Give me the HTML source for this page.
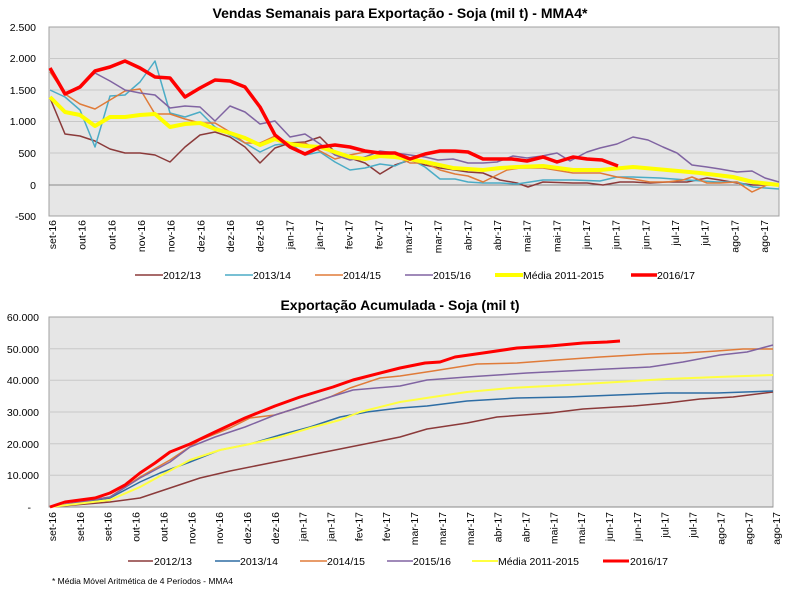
<!DOCTYPE html>
<html><head><meta charset="utf-8"><style>
body{margin:0;background:#fff;}
svg{display:block;font-family:"Liberation Sans",sans-serif;}
.t{font-size:10.5px;fill:#000;}
.ttl{font-size:14px;font-weight:bold;}
</style></head><body>
<svg width="797" height="591" viewBox="0 0 797 591" xmlns="http://www.w3.org/2000/svg">
<rect width="797" height="591" fill="#fff"/>
<!-- TOP CHART -->
<text x="400" y="18" text-anchor="middle" class="ttl">Vendas Semanais para Exportação - Soja (mil t) - MMA4*</text>
<rect x="49" y="27" width="730" height="189" fill="#e6e6e6" stroke="#a0a0a0" stroke-width="1"/>
<g stroke="#c8c8c8" stroke-width="1">
<line x1="49" y1="58.5" x2="779" y2="58.5"/><line x1="49" y1="90" x2="779" y2="90"/><line x1="49" y1="121.5" x2="779" y2="121.5"/><line x1="49" y1="153" x2="779" y2="153"/>
</g>
<line x1="49" y1="185" x2="779" y2="185" stroke="#8a8a8a" stroke-width="1"/>
<g class="t" text-anchor="end">
<text x="36" y="31">2.500</text><text x="36" y="62">2.000</text><text x="36" y="94">1.500</text><text x="36" y="125">1.000</text><text x="36" y="157">500</text><text x="36" y="189">0</text><text x="36" y="220">-500</text>
</g>
<g fill="none" stroke-linejoin="round">
<polyline stroke="#8b3a3a" stroke-width="1.5" points="50,98 65,134 80,136 95,141 110,149 125,153 140,153 155,155 170,162 185,147 200,135 215,132 230,137 245,147 260,163 275,148 290,143 305,142 320,137 335,152 350,158 365,163 380,174 395,165 410,160 425,165 440,168 455,170 468,172 483,173 500,180 517,183 528,187 543,182 573,183 587,183 603,185 620,182 633,182 650,183 667,182 687,182 707,178 720,180 737,183 753,185 779,185"/>
<polyline stroke="#4bacc6" stroke-width="1.5" points="50,90 65,97 80,110 95,147 110,96 125,95 140,82 155,61 170,113 185,117 200,112 215,127 230,135 245,143 260,152 275,145 290,143 305,155 320,152 335,162 350,170 365,168 380,164 395,166 410,159 425,167 440,179 455,179 468,182 483,183 500,183 517,184 543,180 573,180 600,181 617,177 633,177 660,178 687,180 717,182 737,182 753,187 779,189"/>
<polyline stroke="#e07b39" stroke-width="1.5" points="50,72 65,94 80,104 95,109 110,100 125,91 140,89 155,114 170,114 185,119 200,123 215,123 230,132 245,143 260,143 275,136 290,144 305,143 320,151 335,159 350,155 365,152 380,154 395,156 410,163 425,163 440,170 455,174 468,176 483,182 497,175 507,170 520,168 543,168 573,173 600,173 617,177 633,179 650,182 667,182 683,180 692,177 707,183 720,183 737,182 752,192 767,185 779,185"/>
<polyline stroke="#8064a2" stroke-width="1.5" points="50,70 65,94 80,86 95,73 110,81 125,90 140,93 155,95 170,108 185,106 200,107 215,121 230,106 245,112 260,124 275,121 290,137 305,134 320,144 335,155 350,160 365,157 380,151 395,153 410,155 425,157 438,160 453,159 468,163 483,163 497,162 513,156 527,158 542,156 557,153 570,161 587,152 600,148 617,144 633,137 648,140 663,147 677,153 692,165 707,167 720,169 737,172 752,171 765,178 779,182"/>
<polyline stroke="#ffff00" stroke-width="4" points="50,97 65,112 80,115 95,126 110,117 125,117 140,115 155,114 170,127 185,124 200,123 215,129 230,133 245,138 260,145 275,139 290,144 305,146 320,147 335,152 350,157 365,159 380,156 395,157 415,160 430,163 453,168 483,170 500,168 517,167 543,166 573,170 600,170 633,167 667,170 700,173 733,177 753,182 779,185"/>
<polyline stroke="#ff0000" stroke-width="3.5" points="50,68 65,94 80,87 95,71 110,67 125,61 140,68 155,77 170,78 185,97 200,88 215,80 230,81 245,87 260,107 275,135 290,147 305,154 320,147 335,145 350,147 365,151 380,153 395,153 400,155 410,159 425,154 440,151 455,151 468,152 483,159 498,159 512,159 527,161 543,157 557,162 573,157 587,159 602,160 618,166"/>
</g>
<g class="t" text-anchor="end">
<text transform="translate(56,220) rotate(-90)">set-16</text>
<text transform="translate(85.7,220) rotate(-90)">out-16</text>
<text transform="translate(115.3,220) rotate(-90)">out-16</text>
<text transform="translate(145,220) rotate(-90)">nov-16</text>
<text transform="translate(174.7,220) rotate(-90)">nov-16</text>
<text transform="translate(204.3,220) rotate(-90)">dez-16</text>
<text transform="translate(234,220) rotate(-90)">dez-16</text>
<text transform="translate(263.7,220) rotate(-90)">dez-16</text>
<text transform="translate(293.3,220) rotate(-90)">jan-17</text>
<text transform="translate(323,220) rotate(-90)">jan-17</text>
<text transform="translate(352.7,220) rotate(-90)">fev-17</text>
<text transform="translate(382.3,220) rotate(-90)">fev-17</text>
<text transform="translate(412,220) rotate(-90)">mar-17</text>
<text transform="translate(441.7,220) rotate(-90)">mar-17</text>
<text transform="translate(471.3,220) rotate(-90)">abr-17</text>
<text transform="translate(501,220) rotate(-90)">abr-17</text>
<text transform="translate(530.7,220) rotate(-90)">mai-17</text>
<text transform="translate(560.3,220) rotate(-90)">mai-17</text>
<text transform="translate(590,220) rotate(-90)">jun-17</text>
<text transform="translate(619.7,220) rotate(-90)">jun-17</text>
<text transform="translate(649.3,220) rotate(-90)">jun-17</text>
<text transform="translate(679,220) rotate(-90)">jul-17</text>
<text transform="translate(708.7,220) rotate(-90)">jul-17</text>
<text transform="translate(738.3,220) rotate(-90)">ago-17</text>
<text transform="translate(768,220) rotate(-90)">ago-17</text>
</g>
<g>
<line x1="135" y1="275" x2="163" y2="275" stroke="#8b3a3a" stroke-width="1.5"/><text x="163" y="279" class="t">2012/13</text>
<line x1="225" y1="275" x2="253" y2="275" stroke="#4bacc6" stroke-width="1.5"/><text x="253" y="279" class="t">2013/14</text>
<line x1="315" y1="275" x2="343" y2="275" stroke="#e07b39" stroke-width="1.5"/><text x="343" y="279" class="t">2014/15</text>
<line x1="405" y1="275" x2="433" y2="275" stroke="#8064a2" stroke-width="1.5"/><text x="433" y="279" class="t">2015/16</text>
<line x1="495" y1="275" x2="523" y2="275" stroke="#ffff00" stroke-width="4"/><text x="523" y="279" class="t">Média 2011-2015</text>
<line x1="631" y1="275" x2="657" y2="275" stroke="#ff0000" stroke-width="3.5"/><text x="657" y="279" class="t">2016/17</text>
</g>

<!-- BOTTOM CHART -->
<text x="400" y="310" text-anchor="middle" class="ttl">Exportação Acumulada - Soja (mil t)</text>
<rect x="49" y="317" width="724" height="190" fill="#e6e6e6" stroke="#a0a0a0" stroke-width="1"/>
<g stroke="#c8c8c8" stroke-width="1">
<line x1="49" y1="348.7" x2="773" y2="348.7"/><line x1="49" y1="380.3" x2="773" y2="380.3"/><line x1="49" y1="412" x2="773" y2="412"/><line x1="49" y1="443.7" x2="773" y2="443.7"/><line x1="49" y1="475.3" x2="773" y2="475.3"/>
</g>
<line x1="49" y1="507" x2="773" y2="507" stroke="#8a8a8a" stroke-width="1"/>
<g class="t" text-anchor="end">
<text x="39" y="321">60.000</text><text x="39" y="353">50.000</text><text x="39" y="384">40.000</text><text x="39" y="416">30.000</text><text x="39" y="448">20.000</text><text x="39" y="479">10.000</text><text x="31" y="511">-</text>
</g>
<g fill="none" stroke-linejoin="round">
<polyline stroke="#8b3a3a" stroke-width="1.5" points="50,507 110,502 140,498 170,488 200,478 230,471 260,465 290,459 320,453 350,447 400,437 427,429 467,423 497,417 550,413 583,409 633,406 667,403 700,399 733,397 773,392"/>
<polyline stroke="#2e6da4" stroke-width="1.5" points="50,507 110,498 140,482 160,473 190,462 220,450 250,444 280,435 310,427 340,417 367,412 400,408 427,406 467,401 517,398 567,397 617,395 667,393 717,393 773,391"/>
<polyline stroke="#e07b39" stroke-width="1.5" points="50,507 110,497 140,477 170,460 200,440 230,428 250,418 275,415 300,407 330,397 350,388 380,378 400,376 433,371 477,364 517,363 557,360 600,357 650,354 683,353 717,351 743,349 773,349"/>
<polyline stroke="#8064a2" stroke-width="1.5" points="50,507 110,497 140,478 170,462 190,447 215,437 245,427 275,415 300,407 330,397 353,390 400,386 427,380 467,377 527,373 567,371 607,369 650,367 683,362 720,355 747,352 773,345"/>
<polyline stroke="#ffff40" stroke-width="2" points="50,507 110,500 140,487 160,476 190,460 220,450 250,444 280,437 310,428 340,420 360,412 400,402 433,397 467,392 510,388 567,385 617,382 667,379 717,377 773,375"/>
<polyline stroke="#ff0000" stroke-width="3" points="50,507 65,502 80,500 95,498 110,493 125,485 140,473 155,463 170,452 190,444 215,432 245,418 275,406 300,397 333,387 353,380 400,368 425,363 440,362 455,357 483,353 517,348 550,346 583,343 607,342 620,341"/>
</g>
<g class="t" text-anchor="end">
<text transform="translate(56,512) rotate(-90)">set-16</text>
<text transform="translate(83.9,512) rotate(-90)">set-16</text>
<text transform="translate(111.7,512) rotate(-90)">set-16</text>
<text transform="translate(139.6,512) rotate(-90)">out-16</text>
<text transform="translate(167.4,512) rotate(-90)">out-16</text>
<text transform="translate(195.3,512) rotate(-90)">nov-16</text>
<text transform="translate(223.1,512) rotate(-90)">nov-16</text>
<text transform="translate(251,512) rotate(-90)">dez-16</text>
<text transform="translate(278.8,512) rotate(-90)">dez-16</text>
<text transform="translate(306.7,512) rotate(-90)">jan-17</text>
<text transform="translate(334.5,512) rotate(-90)">jan-17</text>
<text transform="translate(362.4,512) rotate(-90)">fev-17</text>
<text transform="translate(390.2,512) rotate(-90)">fev-17</text>
<text transform="translate(418.1,512) rotate(-90)">mar-17</text>
<text transform="translate(445.9,512) rotate(-90)">mar-17</text>
<text transform="translate(473.8,512) rotate(-90)">mar-17</text>
<text transform="translate(501.6,512) rotate(-90)">abr-17</text>
<text transform="translate(529.5,512) rotate(-90)">abr-17</text>
<text transform="translate(557.3,512) rotate(-90)">mai-17</text>
<text transform="translate(585.2,512) rotate(-90)">mai-17</text>
<text transform="translate(613,512) rotate(-90)">jun-17</text>
<text transform="translate(640.9,512) rotate(-90)">jun-17</text>
<text transform="translate(668.7,512) rotate(-90)">jul-17</text>
<text transform="translate(696.6,512) rotate(-90)">jul-17</text>
<text transform="translate(724.4,512) rotate(-90)">ago-17</text>
<text transform="translate(752.3,512) rotate(-90)">ago-17</text>
<text transform="translate(780.1,512) rotate(-90)">ago-17</text>
</g>
<g>
<line x1="128" y1="561" x2="153" y2="561" stroke="#8b3a3a" stroke-width="1.5"/><text x="154" y="565" class="t">2012/13</text>
<line x1="215" y1="561" x2="240" y2="561" stroke="#2e6da4" stroke-width="1.5"/><text x="240" y="565" class="t">2013/14</text>
<line x1="300" y1="561" x2="327" y2="561" stroke="#e07b39" stroke-width="1.5"/><text x="327" y="565" class="t">2014/15</text>
<line x1="387" y1="561" x2="413" y2="561" stroke="#8064a2" stroke-width="1.5"/><text x="413" y="565" class="t">2015/16</text>
<line x1="472" y1="561" x2="498" y2="561" stroke="#ffff40" stroke-width="2"/><text x="498" y="565" class="t">Média 2011-2015</text>
<line x1="603" y1="561" x2="629" y2="561" stroke="#ff0000" stroke-width="3"/><text x="630" y="565" class="t">2016/17</text>
</g>
<text x="52" y="584" style="font-size:8.5px">* Média Móvel Aritmética de 4 Períodos - MMA4</text>
</svg>
</body></html>
